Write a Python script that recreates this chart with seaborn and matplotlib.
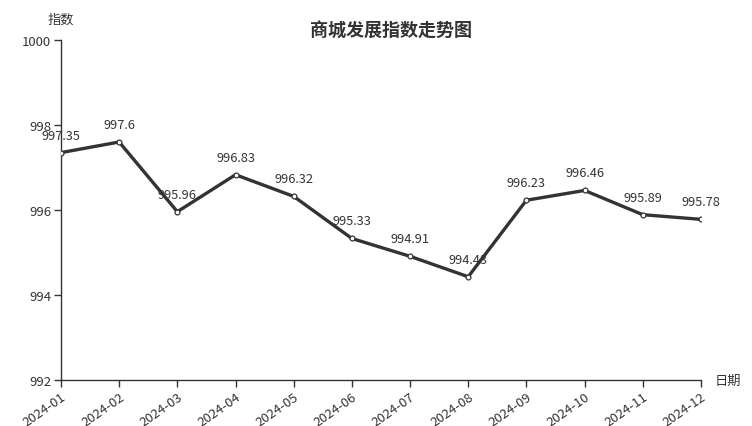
import numpy as np
import pandas as pd
import matplotlib
matplotlib.use("Agg")
import matplotlib.pyplot as plt
import seaborn as sns

# Data
months = ["2024-01", "2024-02", "2024-03", "2024-04", "2024-05", "2024-06",
          "2024-07", "2024-08", "2024-09", "2024-10", "2024-11", "2024-12"]
values = [997.35, 997.6, 995.96, 996.83, 996.32, 995.33,
          994.91, 994.43, 996.23, 996.46, 995.89, 995.78]
labels = ["997.35", "997.6", "995.96", "996.83", "996.32", "995.33",
          "994.91", "994.43", "996.23", "996.46", "995.89", "995.78"]
yticks = [992, 994, 996, 998, 1000]

data = pd.DataFrame({"month": months, "value": values})
data["pos"] = np.arange(len(months))

sns.set_style("white", {"xtick.bottom": True, "ytick.left": True})
plt.rcParams['font.family'] = ['Noto Sans CJK SC', 'DejaVu Sans']

fig = plt.figure(figsize=(7.52, 4.27), dpi=100)
ax = fig.add_axes([0.0811, 0.1077, 0.851, 0.7963])

sns.lineplot(x="pos", y="value", data=data, ax=ax, color="#333333",
             linewidth=2.4, marker="o", markersize=3.5,
             markerfacecolor="white", markeredgecolor="#333333",
             markeredgewidth=0.9, zorder=3)

for x, y, t in zip(data["pos"], data["value"], labels):
    ax.annotate(t, (x, y), xytext=(0, 8), textcoords="offset points",
                ha="center", va="bottom", fontsize=9.2, color="#333333")

ax.set_xlim(0, len(months) - 1)
ax.set_ylim(992, 1000)
ax.set_yticks(yticks)
ax.set_xticks(data["pos"])
ax.set_xticklabels(months, rotation=35, ha="right", rotation_mode="anchor")
ax.tick_params(axis="both", direction="out", length=5, width=1,
               colors="#333333", labelsize=9.5, labelcolor="#333333", pad=2)

for s in ["top", "right"]:
    ax.spines[s].set_visible(False)
for s in ["left", "bottom"]:
    ax.spines[s].set_color("#333333")
    ax.spines[s].set_linewidth(1)

ax.set_xlabel("")
ax.set_ylabel("")
fig.text(61 / 752, 1 - 20 / 427, "指数", ha="center", va="center",
         fontsize=9.5, color="#333333")
fig.text(728 / 752, 1 - 381 / 427, "日期", ha="center", va="center",
         fontsize=9.5, color="#333333")
fig.text(391 / 752, 1 - 30 / 427, "商城发展指数走势图", ha="center", va="center",
         fontsize=13, fontweight="bold", color="#333333")

fig.savefig("out.png", dpi=100)
plt.close()
